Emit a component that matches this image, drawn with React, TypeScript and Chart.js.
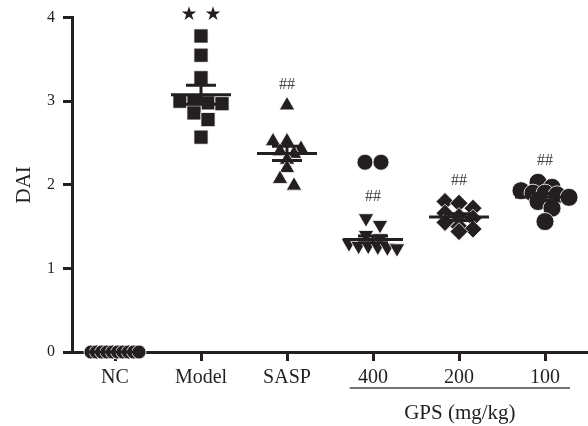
import React, { useEffect, useRef } from 'react';
import { Chart, registerables } from 'chart.js';

Chart.register(...registerables);

const categories = ['NC', 'Model', 'SASP', '400', '200', '100'];
const ncValues = [0, 0, 0, 0, 0, 0, 0, 0, 0, 0];
const modelValues = [3.78, 3.55, 3.28, 3.0, 3.0, 2.98, 2.97, 2.86, 2.78, 2.57];
const saspValues = [2.95, 2.52, 2.52, 2.43, 2.4, 2.37, 2.3, 2.2, 2.07, 1.99];
const gps400Values = [1.6, 1.52, 1.4, 1.36, 1.3, 1.27, 1.27, 1.26, 1.25, 1.24];
const gps400Extra = [2.27, 2.27];
const gps200Values = [1.8, 1.78, 1.72, 1.66, 1.62, 1.6, 1.55, 1.5, 1.47, 1.44];
const gps100Values = [2.03, 1.97, 1.93, 1.9, 1.9, 1.88, 1.85, 1.8, 1.72, 1.56];
const significance = ['', '★★', '##', '##', '##', '##'];
const yTicks = [0, 1, 2, 3, 4];
const yTitle = 'DAI';
const groupTitle = 'GPS (mg/kg)';

const groupValues = [ncValues, modelValues, saspValues, gps400Values, gps200Values, gps100Values];
const markerStyles = ['circle', 'rect', 'triangle', 'triangle', 'rectRot', 'circle'];
const markerRotation = [0, 0, 0, 180, 0, 0];
const markerRadius = [7, 10, 9, 9, 9, 9];

const INK = '#231f20';
const SERIF = '"Liberation Serif", "Times New Roman", serif';
const PX_PER_Y = 84.5;
const PX_PER_X = 86;

function swarm(values: number[], step = 14, maxHalf = 24, thresh = 8): number[] {
  const idx = values.map((_, i) => i).sort((a, b) => values[b] - values[a]);
  const offsets = new Array(values.length).fill(0);
  let row: number[] = [];
  const flush = () => {
    const n = row.length;
    const s = n > 1 ? Math.min(step, (2 * maxHalf) / (n - 1)) : 0;
    row.forEach((k, j) => {
      offsets[k] = ((j - (n - 1) / 2) * s) / PX_PER_X;
    });
    row = [];
  };
  for (const k of idx) {
    if (row.length && (values[row[0]] - values[k]) * PX_PER_Y >= thresh) flush();
    row.push(k);
  }
  if (row.length) flush();
  return offsets;
}

function stats(v: number[]) {
  const n = v.length;
  const mean = v.reduce((a, b) => a + b, 0) / n;
  const sd = Math.sqrt(v.reduce((a, b) => a + (b - mean) * (b - mean), 0) / (n - 1));
  return { mean, sem: sd / Math.sqrt(n) };
}

const overlayPlugin = {
  id: 'overlay',
  afterDatasetsDraw(chart: any) {
    const { ctx, chartArea } = chart;
    const xs = chart.scales.x;
    const ys = chart.scales.y;
    ctx.save();
    ctx.strokeStyle = INK;
    ctx.lineWidth = 3;
    groupValues.forEach((vals, i) => {
      const { mean, sem } = stats(vals);
      const yM = ys.getPixelForValue(mean);
      const yU = ys.getPixelForValue(mean + sem);
      const yL = ys.getPixelForValue(mean - sem);
      const xc = xs.getPixelForValue(i);
      ctx.beginPath();
      ctx.moveTo(xc - 30, yM);
      ctx.lineTo(xc + 30, yM);
      ctx.moveTo(xc, yU);
      ctx.lineTo(xc, yL);
      ctx.moveTo(xc - 15, yU);
      ctx.lineTo(xc + 15, yU);
      ctx.moveTo(xc - 15, yL);
      ctx.lineTo(xc + 15, yL);
      ctx.stroke();
    });
    groupValues.forEach((vals, i) => {
      const mark = significance[i];
      if (!mark) return;
      const xc = xs.getPixelForValue(i);
      const y = ys.getPixelForValue(Math.max(...vals)) - 21;
      ctx.textAlign = 'center';
      ctx.textBaseline = 'middle';
      if (mark.includes('★')) {
        ctx.fillStyle = INK;
        ctx.font = '19px "DejaVu Sans", sans-serif';
        const chars = Array.from(mark);
        chars.forEach((c, j) => {
          ctx.fillText(c, xc + (j - (chars.length - 1) / 2) * 24, y);
        });
      } else {
        ctx.fillStyle = '#444';
        ctx.font = '16px ' + SERIF;
        ctx.fillText(mark, xc, y);
      }
    });
    const x1 = xs.getPixelForValue(3 - 0.27);
    const x2 = xs.getPixelForValue(5 + 0.29);
    const yLine = chartArea.bottom + 36;
    ctx.strokeStyle = '#444';
    ctx.lineWidth = 1.5;
    ctx.beginPath();
    ctx.moveTo(x1, yLine);
    ctx.lineTo(x2, yLine);
    ctx.stroke();
    ctx.fillStyle = INK;
    ctx.font = '21px ' + SERIF;
    ctx.textAlign = 'center';
    ctx.textBaseline = 'middle';
    ctx.fillText(groupTitle, (x1 + x2) / 2, chartArea.bottom + 61);
    ctx.restore();
  },
};

export default function App() {
  const ref = useRef<HTMLCanvasElement | null>(null);
  useEffect(() => {
    if (!ref.current) return;
    const datasets: any[] = groupValues.map((vals, i) => {
      const off = swarm(vals);
      return {
        label: categories[i],
        data: vals.map((v, j) => ({ x: i + off[j], y: v })),
        pointStyle: markerStyles[i],
        rotation: markerRotation[i],
        pointRadius: markerRadius[i],
        backgroundColor: INK,
        borderColor: '#ffffff',
        borderWidth: 0.8,
        clip: false,
      };
    });
    const offExtra = swarm(gps400Extra, 16, 24, 8);
    datasets.push({
      label: '400 extra',
      data: gps400Extra.map((v, j) => ({ x: 3 + offExtra[j], y: v })),
      pointStyle: 'circle',
      pointRadius: 8,
      backgroundColor: INK,
      borderColor: '#ffffff',
      borderWidth: 0.8,
      clip: false,
    });
    const chart = new Chart(ref.current, {
      type: 'scatter',
      data: { datasets },
      plugins: [overlayPlugin],
      options: {
        animation: false,
        responsive: false,
        layout: { autoPadding: false, padding: { top: 14, right: 0, left: 0, bottom: 0 } },
        plugins: { legend: { display: false }, tooltip: { enabled: false } },
        scales: {
          x: {
            type: 'linear',
            min: -0.5,
            max: 5.5,
            afterBuildTicks: (s: any) => {
              s.ticks = categories.map((_, i) => ({ value: i }));
            },
            afterFit: (s: any) => {
              s.height = 74;
              s.paddingLeft = 0;
              s.paddingRight = 0;
            },
            ticks: {
              callback: (v: any) => categories[Math.round(Number(v))] ?? '',
              font: { family: SERIF, size: 20 },
              color: INK,
              padding: 5,
              maxRotation: 0,
              autoSkip: false,
            },
            grid: {
              drawOnChartArea: false,
              drawTicks: true,
              tickLength: 9,
              tickWidth: 3,
              tickColor: INK,
              color: INK,
              lineWidth: 3,
            },
            border: { display: true, color: INK, width: 3 },
          },
          y: {
            type: 'linear',
            min: 0,
            max: 4,
            afterBuildTicks: (s: any) => {
              s.ticks = yTicks.map((v) => ({ value: v }));
            },
            afterFit: (s: any) => {
              s.width = 72;
            },
            ticks: {
              font: { family: SERIF, size: 16 },
              color: INK,
              padding: 8,
            },
            title: {
              display: true,
              text: yTitle,
              font: { family: SERIF, size: 21 },
              color: INK,
              padding: { top: 12, bottom: 0 },
            },
            grid: {
              drawOnChartArea: false,
              drawTicks: true,
              tickLength: 9,
              tickWidth: 3,
              tickColor: INK,
              color: INK,
              lineWidth: 3,
            },
            border: { display: true, color: INK, width: 3 },
          },
        },
      },
    });
    return () => chart.destroy();
  }, []);
  return (
    <div style={{ position: 'fixed', left: 0, top: 0, width: 588, height: 426, background: '#fff' }}>
      <canvas ref={ref} width={588} height={426} />
    </div>
  );
}
